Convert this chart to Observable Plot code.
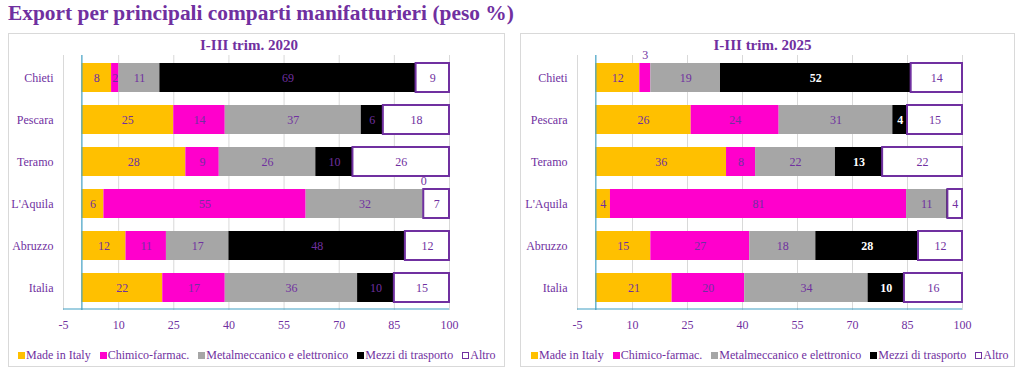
<!DOCTYPE html>
<html>
<head>
<meta charset="utf-8">
<script src="https://cdn.jsdelivr.net/npm/d3@7"></script>
<script src="https://cdn.jsdelivr.net/npm/@observablehq/plot@0.6"></script>
<style>
  html, body { margin: 0; padding: 0; background: #fff; }
  body { width: 1024px; height: 375px; position: relative; overflow: hidden;
         font-family: 'Liberation Serif', 'Times New Roman', serif; color: #7030A0; }
  #title { position: absolute; left: 8px; top: 1px; font-size: 21.4px; font-weight: bold; white-space: nowrap; }
  .panel { position: absolute; top: 33px; height: 334px; border: 1px solid #D9D9D9; box-sizing: border-box; }
  .ptitle { position: absolute; top: 3px; font-size: 15px; font-weight: bold; text-align: center; white-space: nowrap; }
  .chart { position: absolute; left: 0; top: 0; }
  .chart text { font-family: 'Liberation Serif', 'Times New Roman', serif; }
  .legend { position: absolute; top: 314px; display: flex; gap: 9px; font-size: 12px; white-space: nowrap; align-items: center;
            font-family: 'Liberation Serif', 'Times New Roman', serif; }
  .legend span.item { display: flex; align-items: center; gap: 1px; }
  .legend span.sw { display: inline-block; width: 7px; height: 7px; box-sizing: border-box; }
</style>
</head>
<body>
<div id="title">Export per principali comparti manifatturieri (peso %)</div>
<div class="panel" id="p1" style="left:8px; width:497px;"></div>
<div class="panel" id="p2" style="left:520px; width:495px;"></div>
<script>
const categories = ["Chieti", "Pescara", "Teramo", "L'Aquila", "Abruzzo", "Italia"];
const sectors = ["Made in Italy", "Chimico-farmac.", "Metalmeccanico e elettronico", "Mezzi di trasporto", "Altro"];
const sectorColors = ["#FFC000", "#FF00CC", "#A6A6A6", "#000000", "#FFFFFF"];
const xTickLabels = [-5, 10, 25, 40, 55, 70, 85, 100];

// I-III trim. 2020
const made2020 = [8, 25, 28, 6, 12, 22];
const chem2020 = [2, 14, 9, 55, 11, 17];
const metal2020 = [11, 37, 26, 32, 17, 36];
const transport2020 = [69, 6, 10, 0, 48, 10];
const other2020 = [9, 18, 26, 7, 12, 15];
const aboveLabels2020 = [["L'Aquila", "Mezzi di trasporto"]];

// I-III trim. 2025
const made2025 = [12, 26, 36, 4, 15, 21];
const chem2025 = [3, 24, 8, 81, 27, 20];
const metal2025 = [19, 31, 22, 11, 18, 34];
const transport2025 = [52, 4, 13, 0.3, 28, 10];
const other2025 = [14, 15, 22, 4, 12, 16];
const aboveLabels2025 = [["Chieti", "Chimico-farmac."]];

const purple = "#7030A0";
const teal = "#41A0C4";
const grid = "#D9D9D9";
const serif = "'Liberation Serif', 'Times New Roman', serif";

function build(panelId, title, series, aboveList, whiteBlackLabels, marginLeft, width, marginRight, legendLeft) {
  const panel = document.getElementById(panelId);
  const data = categories.flatMap((place, i) =>
    sectors.map((sector, j) => ({place, sector, value: series[j][i]})));
  const isAbove = d => aboveList.some(([p, s]) => p === d.place && s === d.sector);
  const isWhite = d => whiteBlackLabels && d.sector === "Mezzi di trasporto";
  const lab = d => String(Math.round(d.value));
  const st = extra => Plot.stackX({x: "value", y: "place", z: "sector", order: sectors, offset: "normalize", ...extra});
  const ticks = xTickLabels.map(v => v / 100);

  const chart = Plot.plot({
    width, height: 300,
    marginLeft, marginRight, marginTop: 21, marginBottom: 24,
    style: `font-family: ${serif}; font-size: 12px; color: ${purple}; background: transparent; overflow: visible;`,
    x: {domain: [-0.05, 1], label: null},
    y: {domain: categories, paddingInner: 0.32, paddingOuter: 0.16, label: null},
    color: {domain: sectors, range: sectorColors},
    marks: [
      Plot.gridX(ticks, {stroke: grid, strokeOpacity: 1}),
      Plot.barX(data, Plot.stackX({x: "value", y: "place", fill: "sector", order: sectors, offset: "normalize"})),
      Plot.barX(data, st({fill: "none", stroke: purple, strokeWidth: 2, strokeOpacity: d => d.sector === "Altro" ? 1 : 0})),
      Plot.ruleX([0], {stroke: teal, strokeWidth: 1.2}),
      Plot.ruleY(["Italia"], {x1: -0.05, x2: 1, dy: 21, stroke: teal, strokeWidth: 1.2}),
      Plot.text(data, st({text: d => (isAbove(d) || isWhite(d) || d.value < 1) ? "" : lab(d), fill: purple, fontSize: 12, fontFamily: serif})),
      Plot.text(data, st({text: d => (!isAbove(d) && isWhite(d) && d.value >= 1) ? lab(d) : "", fill: "white", fontWeight: "bold", fontSize: 12, fontFamily: serif})),
      Plot.text(data, st({text: d => isAbove(d) ? lab(d) : "", fill: purple, fontSize: 12, dy: -23, fontFamily: serif})),
      Plot.axisX({ticks, tickFormat: d => String(Math.round(d * 100)), tickSize: 0, tickPadding: 10, fill: purple, fontSize: 12, fontFamily: serif, label: null}),
      Plot.axisY({tickSize: 0, tickPadding: 10, fill: purple, fontSize: 12, fontFamily: serif, label: null})
    ]
  });
  chart.classList.add("chart");
  panel.appendChild(chart);

  const t = document.createElement("div");
  t.className = "ptitle";
  t.textContent = title;
  const plotW = width - marginLeft - marginRight;
  t.style.left = (marginLeft - 7) + "px";
  t.style.width = plotW + "px";
  panel.appendChild(t);

  const lg = document.createElement("div");
  lg.className = "legend";
  lg.style.left = legendLeft + "px";
  sectors.forEach((s, i) => {
    const it = document.createElement("span");
    it.className = "item";
    const sw = document.createElement("span");
    sw.className = "sw";
    sw.style.background = sectorColors[i];
    if (s === "Altro") sw.style.border = "1.5px solid " + purple;
    const tx = document.createElement("span");
    tx.textContent = s;
    it.appendChild(sw); it.appendChild(tx);
    lg.appendChild(it);
  });
  panel.appendChild(lg);
}

build("p1", "I-III trim. 2020", [made2020, chem2020, metal2020, transport2020, other2020], aboveLabels2020, false, 54, 495, 55, 9);
build("p2", "I-III trim. 2025", [made2025, chem2025, metal2025, transport2025, other2025], aboveLabels2025, true, 56, 493, 52, 10);
</script>
</body>
</html>
